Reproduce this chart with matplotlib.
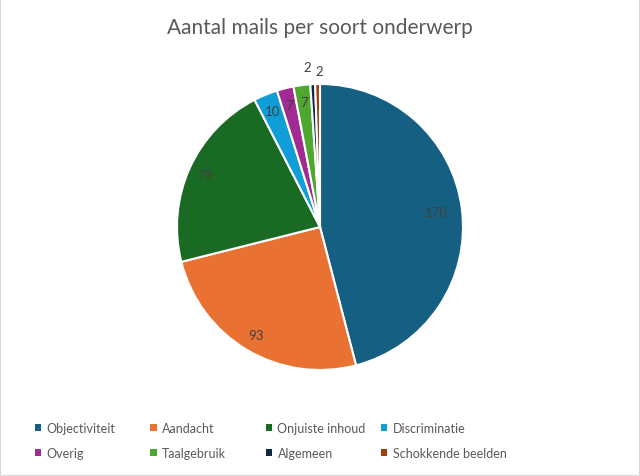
import numpy as np
import matplotlib.pyplot as plt
from matplotlib.patches import Rectangle

plt.rcParams['font.family'] = ['Lato', 'DejaVu Sans']

categories = ["Objectiviteit", "Aandacht", "Onjuiste inhoud", "Discriminatie",
              "Overig", "Taalgebruik", "Algemeen", "Schokkende beelden"]
values = [170, 93, 79, 10, 7, 7, 2, 2]
colors = ["#156082", "#E97132", "#196B24", "#0F9ED5",
          "#A02B93", "#4EA72E", "#0E2841", "#A0400C"]

fig = plt.figure(figsize=(6.4, 4.77), dpi=100)
fig.patches.append(Rectangle((0, 0), 1, 1, transform=fig.transFigure,
                             fill=False, edgecolor="#D9D9D9", linewidth=1.5))

ax = fig.add_axes([0.2207, 0.1473, 0.5586, 0.7495])
wedges, _ = ax.pie(values, colors=colors, startangle=90, counterclock=False,
                   wedgeprops=dict(edgecolor="white", linewidth=1.5))
ax.set_aspect("equal")

# data labels: inside for larger slices, outside for the tiny ones
outside = 0
for w, v in zip(wedges, values):
    ang = np.deg2rad((w.theta1 + w.theta2) / 2)
    if v >= 5:
        d = 0.82 if v > 100 else 0.88
        x, y = d * np.cos(ang), d * np.sin(ang)
    else:
        # nudge the tiny slice labels apart so they don't overlap
        d = 1.12 - 0.03 * outside
        x = d * np.cos(ang) + (-0.03 if outside == 0 else 0.01)
        y = d * np.sin(ang)
        outside += 1
    ax.text(x, y, str(v), ha="center", va="center", fontsize=9.5, color="#404040")

fig.text(0.5, 0.941, "Aantal mails per soort onderwerp", ha="center", va="center",
         fontsize=15, color="#595959")

# legend: 4 columns, filled row by row like the original
col_x = [0.054, 0.235, 0.415, 0.595]
for c in range(4):
    idx = [c, c + 4]
    leg = fig.legend([wedges[i] for i in idx], [categories[i] for i in idx],
                     loc="upper left", bbox_to_anchor=(col_x[c], 0.114),
                     frameon=False, fontsize=9, handlelength=0.5,
                     handleheight=0.5, handletextpad=0.45, labelspacing=1.1,
                     labelcolor="#595959", borderaxespad=0, borderpad=0)
    for h in leg.legend_handles:
        h.set_edgecolor("none")

fig.savefig("out.png", dpi=100)
